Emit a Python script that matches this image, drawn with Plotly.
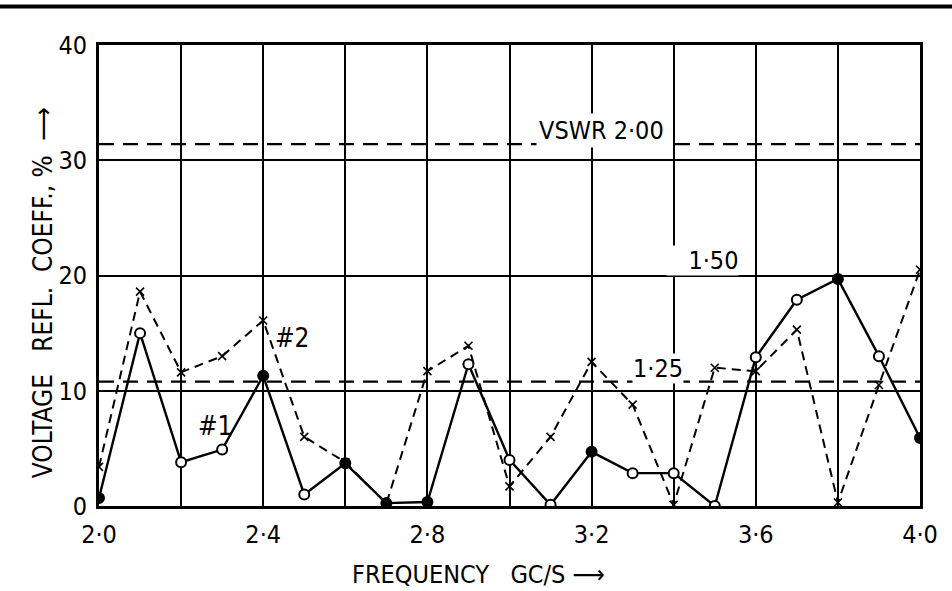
import plotly.graph_objects as go

# ---- data ----
freq = [2.0, 2.1, 2.2, 2.3, 2.4, 2.5, 2.6, 2.7, 2.8, 2.9, 3.0,
        3.1, 3.2, 3.3, 3.4, 3.5, 3.6, 3.7, 3.8, 3.9, 4.0]
refl_1 = [0.7, 15.0, 3.8, 4.9, 11.3, 1.0, 3.7, 0.25, 0.35, 12.3, 4.0,
          0.1, 4.7, 2.85, 2.85, 0.0, 12.9, 17.9, 19.7, 13.0, 5.9]
filled_1 = [True, False, False, False, True, False, True, True, True, False, False,
            False, True, False, False, False, False, False, True, False, True]
refl_2 = [3.4, 18.6, 11.6, 13.0, 16.1, 6.0, 3.8, 0.2, 11.7, 13.9, 1.7,
          6.0, 12.5, 8.8, 0.1, 12.0, 11.7, 15.3, 0.3, 10.5, 20.5]
vswr_labels = ["VSWR 2·00", "1·50", "1·25"]
vswr_levels = [31.4, 10.8]          # dashed reference lines
x_ticks = [2.0, 2.4, 2.8, 3.2, 3.6, 4.0]
x_ticktext = ["2·0", "2·4", "2·8", "3·2", "3·6", "4·0"]
y_ticks = [0, 10, 20, 30, 40]

FONT = "DejaVu Sans Condensed, Liberation Sans Narrow, DejaVu Sans"

fig = go.Figure()

# VSWR dashed reference lines
for lvl in vswr_levels:
    fig.add_trace(go.Scatter(
        x=[freq[0], freq[-1]], y=[lvl, lvl], mode="lines",
        line=dict(color="black", width=2.2, dash="15px,9px"),
        hoverinfo="skip", showlegend=False))

# Series #2 (dashed, x markers)
fig.add_trace(go.Scatter(
    x=freq, y=refl_2, mode="lines+markers",
    line=dict(color="black", width=2, dash="9px,6px"),
    marker=dict(symbol="x-thin", size=8, line=dict(color="black", width=1.6)),
    showlegend=False))

# Series #1 (solid, open/filled circles)
fig.add_trace(go.Scatter(
    x=freq, y=refl_1, mode="lines+markers",
    line=dict(color="black", width=2.4),
    marker=dict(symbol="circle", size=10,
                color=["black" if f else "white" for f in filled_1],
                opacity=1,
                line=dict(color="black", width=2)),
    showlegend=False))

ann_font = dict(family=FONT, size=25, color="black")
fig.add_annotation(x=3.225, y=32.6, text=vswr_labels[0], showarrow=False,
                   font=ann_font, bgcolor="white", borderpad=2)
fig.add_annotation(x=3.47, y=21.3, text="\u00a0\u00a0\u00a0" + vswr_labels[1], showarrow=False,
                   font=ann_font, bgcolor="white", borderpad=0)
fig.add_annotation(x=3.362, y=11.95, text=vswr_labels[2], showarrow=False,
                   font=ann_font, bgcolor="white", borderpad=0)
fig.add_annotation(x=2.47, y=14.6, text="#2", showarrow=False,
                   font=dict(family=FONT, size=26, color="black"))
fig.add_annotation(x=2.283, y=6.9, text="#1", showarrow=False,
                   font=dict(family=FONT, size=26, color="black"))

# axis titles
fig.add_annotation(xref="paper", yref="paper", x=-0.068, y=0.462,
                   xanchor="center", yanchor="middle",
                   text="VOLTAGE\u00a0\u00a0\u00a0REFL.\u00a0\u00a0COEFF.,\u00a0%\u00a0\u00a0\u27f6",
                   textangle=-90, showarrow=False,
                   font=dict(family=FONT, size=26, color="black"))
fig.add_annotation(xref="paper", yref="paper", x=0.462, y=-0.149,
                   xanchor="center", yanchor="middle",
                   text="FREQUENCY\u00a0\u00a0\u00a0GC/S\u00a0\u27f6",
                   showarrow=False, borderpad=0,
                   font=dict(family=FONT, size=25, color="black"))

# page rule at the top of the scan
fig.add_shape(type="line", xref="paper", yref="paper",
              x0=-0.121, x1=1.04, y0=1.0835, y1=1.0835,
              line=dict(color="black", width=4))

fig.update_layout(
    width=952, height=591,
    margin=dict(l=99, r=32, t=45, b=85),
    plot_bgcolor="white", paper_bgcolor="white",
    font=dict(family=FONT, size=22, color="black"),
    xaxis=dict(range=[2.0, 4.0], tickvals=x_ticks, ticktext=x_ticktext,
               showgrid=True, gridcolor="black", gridwidth=2,
               minor=dict(dtick=0.2, tick0=2.0, showgrid=True,
                          gridcolor="black", gridwidth=2),
               showline=True, linecolor="black", linewidth=3, mirror=True,
               zeroline=False, ticks="", tickfont=dict(size=25),
               ticklabelstandoff=4),
    yaxis=dict(range=[0, 40], tickvals=y_ticks,
               showgrid=True, gridcolor="black", gridwidth=2,
               showline=True, linecolor="black", linewidth=3, mirror=True,
               zeroline=False, ticks="", tickfont=dict(size=25),
               ticklabelstandoff=4),
)

fig.write_html("out.html")
